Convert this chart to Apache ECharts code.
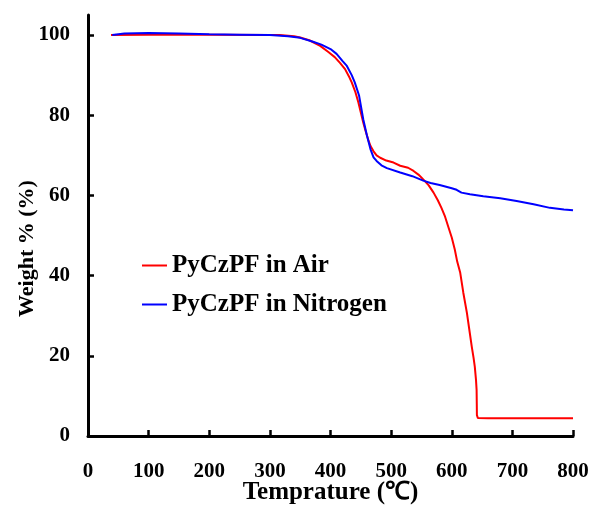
<!DOCTYPE html>
<html>
<head>
<meta charset="utf-8">
<script src="https://cdn.jsdelivr.net/npm/echarts@6/dist/echarts.min.js"></script>
<style>
  html, body { margin: 0; padding: 0; background: #fff; }
  #chart { width: 592px; height: 506px; }
</style>
</head>
<body>
<div id="chart"></div>
<script>
  // 空气中 [温度, 失重%]
  var airData = [
    [38, 100], [100, 100.1], [200, 100.1], [300, 100], [316, 100], [340, 99.7], [350, 99.4],
    [365, 98.7], [383, 97.3], [397, 95.7], [407, 94.5], [416, 93], [424, 91.5], [430, 89.8],
    [435, 88.2], [441, 85.8], [446, 83.2], [450, 80.7], [454, 78.2], [458, 76], [462, 74],
    [466, 72.3], [471, 71], [476, 70], [482, 69.4], [492, 68.7], [504, 68.2], [515, 67.4],
    [528, 66.9], [537, 66.1], [545, 65.2], [553, 64], [562, 62.5], [570, 60.7], [577, 58.8],
    [583, 56.9], [589, 54.7], [594, 52.3], [600, 49.5], [605, 46.5], [609, 43.5], [614, 40.7],
    [619, 35.8], [625, 30.7], [629, 26.5], [633, 22.3], [636, 19.5], [638, 17.3], [640, 14],
    [641, 11.5], [641.3, 8], [641.5, 5.2], [643, 4.5], [660, 4.4], [700, 4.4], [750, 4.4], [800, 4.4]
  ]
  // 氮气中
  var nitrogenData = [
    [40, 100], [60, 100.4], [100, 100.5], [150, 100.4], [200, 100.2], [250, 100.1], [300, 100],
    [330, 99.7], [350, 99.3], [370, 98.4], [385, 97.6], [400, 96.5], [410, 95.3], [420, 93.5],
    [427, 92.3], [435, 90], [440, 88.2], [447, 85], [454, 79], [460, 75], [466, 71.5], [471, 69.5],
    [476, 68.6], [484, 67.5], [493, 66.8], [515, 65.7], [535, 64.8], [553, 63.7], [565, 63.1],
    [580, 62.6], [600, 61.8], [608, 61.4], [616, 60.7], [630, 60.3], [652, 59.8], [680, 59.3],
    [707, 58.6], [735, 57.8], [762, 56.9], [785, 56.5], [800, 56.3]
  ]
  var seriesNames = ['PyCzPF in Air', 'PyCzPF in Nitrogen']
  var seriesColors = ['#ff0000', '#0000ff']
  var xTicks = [0, 100, 200, 300, 400, 500, 600, 700, 800]
  var yTicks = [0, 20, 40, 60, 80, 100]

  var myChart = echarts.init(document.getElementById('chart'))
  var font = '"Liberation Serif", "Times New Roman", serif'

  var axisCommon = {
    axisLine: { show: true, lineStyle: { color: '#000', width: 3 } },
    axisTick: { show: true, inside: true, length: 6, lineStyle: { color: '#000', width: 2.5 } },
    splitLine: { show: false },
    axisLabel: { color: '#000', fontFamily: font, fontWeight: 'bold', fontSize: 21 }
  }

  var option = {
    animation: false,
    backgroundColor: '#fff',
    grid: { left: 88, right: 19, top: 15, bottom: 70, containLabel: false, outerBoundsMode: 'none' },
    legend: {
      orient: 'vertical',
      left: 137,
      top: 248,
      itemWidth: 25,
      itemHeight: 2,
      itemGap: 14,
      icon: 'rect',
      textStyle: { color: '#000', fontFamily: font, fontWeight: 'bold', fontSize: 25 },
      data: seriesNames
    },
    xAxis: Object.assign({}, axisCommon, {
      type: 'value',
      min: 0,
      max: 800,
      interval: 100,
      axisTick: Object.assign({}, axisCommon.axisTick, { customValues: xTicks }),
      axisLabel: Object.assign({}, axisCommon.axisLabel, { margin: 25, customValues: xTicks }),
      name: 'Temprature (℃)',
      nameLocation: 'middle',
      nameGap: 44,
      nameMoveOverlap: false,
      nameTextStyle: { color: '#000', fontFamily: font, fontWeight: 'bold', fontSize: 25 }
    }),
    yAxis: Object.assign({}, axisCommon, {
      type: 'value',
      min: 0,
      max: 105,
      interval: 20,
      axisTick: Object.assign({}, axisCommon.axisTick, { customValues: yTicks }),
      axisLabel: Object.assign({}, axisCommon.axisLabel, { margin: 18, customValues: yTicks }),
      name: 'Weight % (%)',
      nameLocation: 'middle',
      nameGap: 50,
      nameMoveOverlap: false,
      nameTextStyle: { color: '#000', fontFamily: font, fontWeight: 'bold', fontSize: 22, padding: [0, 46, 0, 0] }
    }),
    series: [
      {
        name: seriesNames[0],
        type: 'line',
        data: airData,
        showSymbol: false,
        symbol: 'none',
        lineStyle: { color: seriesColors[0], width: 2 },
        itemStyle: { color: seriesColors[0] }
      },
      {
        name: seriesNames[1],
        type: 'line',
        data: nitrogenData,
        showSymbol: false,
        symbol: 'none',
        lineStyle: { color: seriesColors[1], width: 2 },
        itemStyle: { color: seriesColors[1] }
      }
    ]
  }
  myChart.setOption(option)
</script>
</body>
</html>
